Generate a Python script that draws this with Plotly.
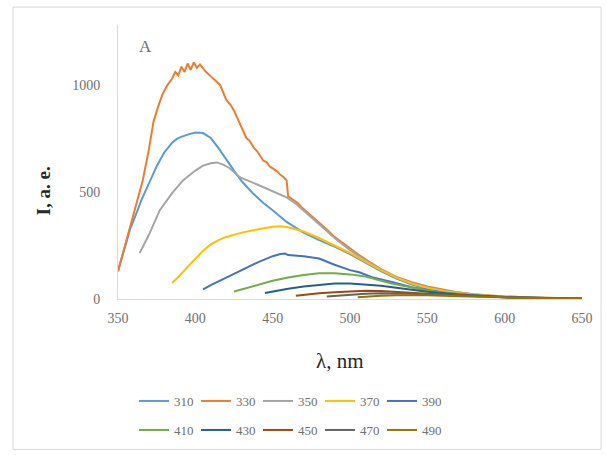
import plotly.graph_objects as go

# ---------------- data ----------------
series_names = ["310", "330", "350", "370", "390", "410", "430", "450", "470", "490"]

wl_310 = [350, 355, 358, 360, 365, 370, 375, 380, 385, 388, 390, 395, 400, 405, 410, 415, 420, 425, 430, 437, 444, 450, 459, 470, 480, 490, 500, 510, 520, 530, 540, 550, 560, 570, 580, 590, 600, 620, 650]
I_310 = [130, 250, 330, 365, 460, 540, 620, 685, 730, 748, 755, 768, 778, 775, 752, 705, 650, 600, 550, 495, 448, 415, 360, 310, 275, 245, 210, 170, 130, 95, 68, 48, 34, 25, 18, 13, 9, 5, 2]

wl_330 = [350, 355, 360, 366, 370, 373, 376, 379, 382, 385, 387, 389, 391, 393, 395, 397, 399, 401, 403, 405, 407, 410, 413, 416, 420, 423, 425, 428, 430, 433, 435, 438, 440, 444, 446, 448, 450, 453, 455, 457, 459, 460, 463, 466, 470, 476, 480, 485, 490, 498, 505, 510, 520, 530, 540, 550, 560, 570, 580, 590, 600, 610, 620, 630, 640, 650]
I_330 = [130, 265, 400, 554, 700, 830, 900, 960, 1000, 1030, 1060, 1045, 1085, 1060, 1100, 1070, 1105, 1080, 1095, 1075, 1060, 1040, 1020, 1000, 930, 905, 880, 835, 800, 752, 740, 705, 690, 646, 640, 620, 610, 595, 580, 570, 554, 480, 465, 450, 420, 383, 360, 325, 290, 245, 210, 185, 140, 103, 78, 58, 43, 31, 22, 16, 12, 9, 6, 4, 3, 2]

wl_350 = [364, 370, 377, 385, 392, 400, 405, 410, 414, 418, 422, 429, 440, 450, 459, 465, 470, 476, 485, 490, 500, 510, 520, 530, 540, 550, 560, 570, 580, 590, 600, 620, 650]
I_350 = [215, 300, 415, 495, 554, 600, 623, 634, 638, 628, 612, 568, 535, 505, 475, 445, 415, 375, 318, 285, 228, 180, 137, 100, 75, 55, 40, 29, 21, 15, 11, 6, 2]

wl_370 = [385, 390, 395, 400, 405, 410, 415, 420, 425, 430, 440, 450, 455, 460, 470, 480, 490, 500, 510, 520, 530, 540, 550, 560, 570, 580, 590, 600, 620, 650]
I_370 = [75, 110, 150, 190, 225, 255, 275, 290, 300, 310, 325, 338, 340, 335, 315, 285, 250, 215, 175, 135, 100, 72, 52, 37, 27, 19, 14, 10, 5, 2]

wl_390 = [405, 410, 420, 430, 440, 450, 455, 458, 460, 470, 480, 490, 500, 506, 515, 527, 540, 550, 560, 570, 580, 600, 620, 650]
I_390 = [45, 65, 100, 135, 170, 200, 210, 212, 205, 200, 189, 160, 135, 125, 100, 80, 55, 42, 30, 22, 16, 8, 4, 1]

wl_410 = [425, 430, 440, 450, 460, 470, 480, 490, 500, 510, 527, 540, 550, 560, 580, 600, 625, 650]
I_410 = [35, 45, 65, 85, 100, 112, 120, 120, 115, 105, 72, 52, 40, 30, 17, 9, 4, 1]

wl_430 = [445, 450, 460, 470, 480, 490, 500, 510, 520, 530, 540, 550, 570, 600, 625, 650]
I_430 = [28, 35, 48, 58, 66, 72, 72, 68, 62, 53, 42, 34, 21, 9, 4, 1]

wl_450 = [465, 470, 480, 490, 500, 510, 520, 530, 540, 550, 570, 600, 625, 650]
I_450 = [15, 20, 27, 32, 36, 38, 37, 34, 30, 25, 17, 8, 4, 1]

wl_470 = [485, 490, 500, 510, 520, 530, 540, 550, 570, 600, 650]
I_470 = [12, 15, 20, 24, 27, 27, 25, 22, 15, 8, 1]

wl_490 = [505, 510, 520, 530, 540, 550, 570, 600, 625, 650]
I_490 = [8, 11, 15, 18, 19, 18, 13, 7, 3, 1]

x_ticks = [350, 400, 450, 500, 550, 600, 650]
y_ticks = [0, 500, 1000]

# ---------------- styling ----------------
colors = ["#5B9BD5", "#ED7D31", "#A5A5A5", "#FFC000", "#4472C4",
          "#70AD47", "#255E91", "#9E480E", "#636363", "#997300"]
xs = [wl_310, wl_330, wl_350, wl_370, wl_390, wl_410, wl_430, wl_450, wl_470, wl_490]
ys = [I_310, I_330, I_350, I_370, I_390, I_410, I_430, I_450, I_470, I_490]

SERIF = "Liberation Serif, Times New Roman, serif"

fig = go.Figure()
for i, (name, x, y, c) in enumerate(zip(series_names, xs, ys, colors)):
    fig.add_trace(go.Scatter(
        x=x, y=y, name=name, mode="lines",
        line=dict(color=c, width=2),
        legend="legend" if i < 5 else "legend2",
    ))

L, R, T, B = 118, 582, 25, 300
W, H = 606, 455

def px_to_paper_x(px):
    return (px - L) / (R - L)

def px_to_paper_y(py):
    return (B - py) / (B - T)

legend_common = dict(
    orientation="h",
    font=dict(family=SERIF, size=13, color="#707070"),
    entrywidth=17, entrywidthmode="pixels",
    xanchor="left", yanchor="middle",
    bgcolor="rgba(0,0,0,0)",
    itemclick=False, itemdoubleclick=False,
)

fig.update_layout(
    width=W, height=H,
    margin=dict(l=L, r=W - R, t=T, b=H - B),
    paper_bgcolor="white", plot_bgcolor="white",
    showlegend=True,
    legend=dict(x=px_to_paper_x(134), y=px_to_paper_y(401), **legend_common),
    legend2=dict(x=px_to_paper_x(134), y=px_to_paper_y(430), **legend_common),
    xaxis=dict(
        range=[350, 650], tickvals=x_ticks, ticktext=[str(v) for v in x_ticks],
        showgrid=False, zeroline=False,
        showline=True, linecolor="#D9D9D9", linewidth=1,
        ticks="", tickfont=dict(family=SERIF, size=14, color="#707070"),
        ticklabelstandoff=6,
    ),
    yaxis=dict(
        range=[0, 1280], tickvals=y_ticks, ticktext=[str(v) for v in y_ticks],
        showgrid=False, zeroline=False,
        showline=True, linecolor="#D9D9D9", linewidth=1,
        ticks="", tickfont=dict(family=SERIF, size=14, color="#707070"),
        ticklabelstandoff=14,
    ),
    annotations=[
        dict(text="λ, nm", x=px_to_paper_x(340), y=px_to_paper_y(362),
             xref="paper", yref="paper", showarrow=False,
             xanchor="center", yanchor="middle",
             font=dict(family=SERIF, size=21, color="#262626")),
        dict(text="<b>I, a. e.</b>", x=px_to_paper_x(43), y=px_to_paper_y(192),
             xref="paper", yref="paper", showarrow=False, textangle=-90,
             xanchor="center", yanchor="middle",
             font=dict(family=SERIF, size=19, color="#262626")),
        dict(text="A", x=px_to_paper_x(145), y=px_to_paper_y(47),
             xref="paper", yref="paper", showarrow=False,
             xanchor="center", yanchor="middle",
             font=dict(family=SERIF, size=17, color="#707070")),
    ],
    shapes=[
        dict(type="rect", xref="paper", yref="paper",
             x0=px_to_paper_x(13), x1=px_to_paper_x(601),
             y0=px_to_paper_y(451), y1=px_to_paper_y(7),
             line=dict(color="#D9D9D9", width=1), fillcolor="rgba(0,0,0,0)",
             layer="below"),
    ],
)

fig.write_html("out.html")
